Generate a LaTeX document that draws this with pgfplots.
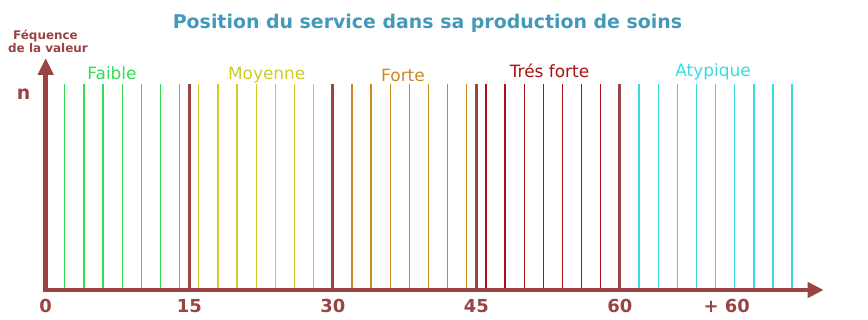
\documentclass[border=0pt]{standalone}
\usepackage{fontspec}
\setmainfont{DejaVu Sans}
\usepackage{pgfplots}
\pgfplotsset{compat=1.18}
\usetikzlibrary{arrows.meta}
\definecolor{axbrown}{HTML}{9A4343}
\definecolor{cgreen}{HTML}{33DD55}
\definecolor{cyellow}{HTML}{CCCC22}
\definecolor{corange}{HTML}{CC8822}
\definecolor{cred}{HTML}{AA1111}
\definecolor{ccyan}{HTML}{33DDDD}
\definecolor{ctitle}{HTML}{4499BB}
\begin{document}
\begin{tikzpicture}[x=1bp,y=1bp]
\useasboundingbox (0,0) rectangle (868,319);
\begin{axis}[
  at={(45.7bp,29bp)}, anchor=south west,
  scale only axis, width=778bp, height=232bp,
  xmin=0, xmax=81.3, ymin=0, ymax=232,
  axis lines*=left, axis on top,
  axis line style={draw=axbrown, line width=4.5bp, line cap=rect},
  x axis line style={-{Triangle[width=15bp,length=16bp]}},
  y axis line style={-{Triangle[width=15bp,length=17bp]}},
  major tick length=0pt,
  ytick=\empty,
  xtick={0,15,30,45,60,71.16},
  xticklabels={0,15,30,45,60,+ 60},
  xticklabel style={font=\fontsize{18}{20}\selectfont\bfseries, text=axbrown, anchor=base, yshift=-22bp},
  /pgf/number format/assume math mode=true,
  clip=false,
]
\addplot[ycomb, cgreen, line width=1.3bp, mark=none] coordinates {(2,206)(4,206)(6,206)(8,206)(10,206)(12,206)(14,206)};
\addplot[ycomb, cyellow, line width=1.3bp, mark=none] coordinates {(16,206)(18,206)(20,206)(22,206)(24,206)(26,206)(28,206)};
\addplot[ycomb, corange, line width=1.3bp, mark=none] coordinates {(32,206)(34,206)(36,206)(38,206)(40,206)(42,206)(44,206)};
\addplot[ycomb, cred, line width=1.3bp, mark=none] coordinates {(46,206)(48,206)(50,206)(52,206)(54,206)(56,206)(58,206)};
\addplot[ycomb, ccyan, line width=1.3bp, mark=none] coordinates {(62,206)(64,206)(66,206)(68,206)(70,206)(72,206)(74,206)(76,206)(78,206)};
\addplot[ycomb, axbrown, line width=2.8bp, mark=none] coordinates {(15,206)(30,206)(45,206)(60,206)};
\end{axis}
\node[anchor=base, text=ctitle, font=\fontsize{19}{22}\selectfont\bfseries] at (427.5,290.5) {Position du service dans sa production de soins};
\node[anchor=base, text=axbrown, font=\fontsize{12}{14}\selectfont\bfseries, inner sep=0pt] at (45.5,280) {Féquence};
\node[anchor=base, text=axbrown, font=\fontsize{12}{14}\selectfont\bfseries, inner sep=0pt] at (48,266.7) {de la valeur};
\node[anchor=base, text=axbrown, font=\fontsize{19}{22}\selectfont\bfseries, inner sep=0pt] at (23.5,220) {n};
\node[anchor=base, text=cgreen, font=\fontsize{17}{20}\selectfont, inner sep=0pt] at (112,239.7) {Faible};
\node[anchor=base, text=cyellow, font=\fontsize{17}{20}\selectfont, inner sep=0pt] at (266.7,239.7) {Moyenne};
\node[anchor=base, text=corange, font=\fontsize{17}{20}\selectfont, inner sep=0pt] at (403,238) {Forte};
\node[anchor=base, text=cred, font=\fontsize{17}{20}\selectfont, inner sep=0pt] at (549.5,242) {Trés forte};
\node[anchor=base, text=ccyan, font=\fontsize{17}{20}\selectfont, inner sep=0pt] at (713,242.3) {Atypique};
\end{tikzpicture}
\end{document}
